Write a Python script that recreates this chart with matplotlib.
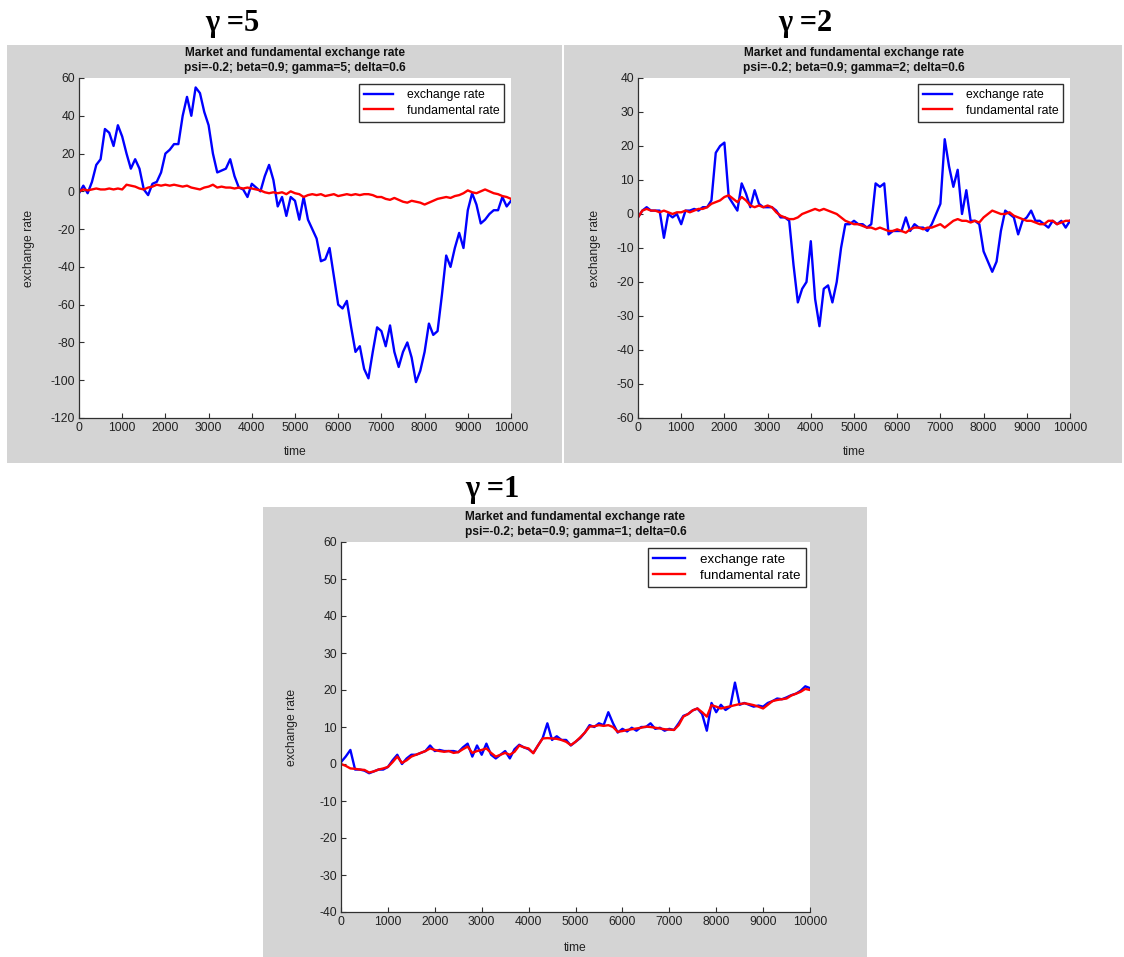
import numpy as np
import matplotlib
matplotlib.use("Agg")
import matplotlib.pyplot as plt
from matplotlib.patches import Rectangle

time = list(range(0, 10001, 100))

g5_exchange = [-1, 3, -1, 5, 14, 17, 33, 31, 24, 35, 29, 20, 12, 17, 12, 1, -2, 4, 5, 10,
               20, 22, 25, 25, 40, 50, 40, 55, 52, 42, 35, 20, 10, 11, 12, 17, 8, 2, 1, -3,
               4, 2, 0, 8, 14, 6, -8, -3, -13, -3, -5, -15, -3, -15, -20, -25, -37, -36, -30, -45,
               -60, -62, -58, -72, -85, -82, -94, -99, -85, -72, -74, -82, -71, -85, -93, -85, -80, -88, -101, -95,
               -85, -70, -76, -74, -55, -34, -40, -30, -22, -30, -10, -1, -7, -17, -15, -12, -10, -10, -3, -8,
               -5]
g5_fundamental = [0, 1, 0.5, 1, 1.5, 1, 1, 1.5, 1, 1.5, 1, 3.5, 3, 2.5, 1.5, 1, 2, 2.5, 3.5, 3,
                  3.5, 3, 3.5, 3, 2.5, 3, 2, 1.5, 1, 2, 2.5, 3.5, 2, 2.5, 2, 2, 1.5, 2, 1.5, 2,
                  1.5, 1, 0.5, -0.5, -1, -0.5, -1, -0.5, -1.5, 0, -1, -1.5, -3, -2, -1.5, -2, -1.5, -2.5, -2, -1.5,
                  -2.5, -2, -1.5, -2, -1.5, -2, -1.5, -1.5, -2, -3, -3, -4, -4.5, -3.5, -4.5, -5.5, -6, -5, -5.5, -6,
                  -7, -6, -5, -4, -3.5, -3, -3.5, -2.5, -2, -1, 0.5, -0.5, -1, 0, 1, 0, -1, -1.5, -2.5, -3,
                  -4]

g2_exchange = [-1, 1, 2, 1, 1, 1, -7, 0, -1, 0, -3, 1, 1, 1.5, 1, 2, 2, 4, 18, 20,
               21, 5, 3, 1, 9, 6, 2, 7, 3, 2, 2, 2, 1, -1, -1, -2, -15, -26, -22, -20,
               -8, -25, -33, -22, -21, -26, -20, -10, -3, -3, -2, -3, -3, -4, -3, 9, 8, 9, -6, -5,
               -5, -5, -1, -5, -3, -4, -4, -5, -3, 0, 3, 22, 14, 8, 13, 0, 7, -2, -2, -3,
               -11, -14, -17, -14, -5, 1, 0, -1, -6, -2, -1, 1, -2, -2, -3, -4, -2, -3, -2, -4,
               -2]
g2_fundamental = [-1, 1, 1.5, 1, 1, 0.5, 1, 0.5, 0, 0.5, 0.5, 1, 0.5, 1, 1.5, 1.5, 2, 3, 3.5, 4,
                  5, 5.5, 4.5, 3.5, 5, 4, 2.5, 2, 2.5, 2, 2.5, 2, 0.5, -0.5, -1, -1.5, -1.5, -1, 0, 0.5,
                  1, 1.5, 1, 1.5, 1, 0.5, 0, -1, -2, -2.5, -3, -3, -3.5, -4, -4, -4.5, -4, -4.5, -5, -5,
                  -4.5, -5, -5.5, -4.5, -4, -4, -4.5, -4, -4, -3.5, -3, -4, -3, -2, -1.5, -2, -2, -2.5, -2, -2.5,
                  -1, 0, 1, 0.5, 0, 0, 0.5, -0.5, -1, -1.5, -2, -2, -2.5, -3, -3, -2, -2, -3, -2.5, -2,
                  -2]

g1_exchange = [0.5, 2, 3.8, -1.5, -1.5, -1.8, -2.5, -2, -1.5, -1.5, -0.8, 1, 2.5, 0, 1.5, 2.5, 2.5, 3, 3.5, 5,
               3.5, 3.8, 3.5, 3.5, 3.5, 3.2, 4.5, 5.5, 2, 5, 2.5, 5.5, 2.5, 1.5, 2.5, 3.5, 1.5, 4, 5.2, 4.5,
               4, 3, 5, 7, 11, 6.5, 7.5, 6.5, 6.5, 5, 6, 7, 8.5, 10.5, 10, 11, 10.5, 14, 11, 8.5,
               9.5, 8.8, 9.8, 9, 10, 10, 11, 9.5, 9.8, 9, 9.5, 9.2, 11, 13, 13.5, 14.5, 15, 13.5, 9, 16.5,
               14, 16, 14.6, 15.5, 22, 16, 16.5, 16, 15.5, 15.8, 15.5, 16.5, 17, 17.7, 17.5, 18, 18.6, 19, 19.8, 21,
               20.5]
g1_fundamental = [0, -0.5, -1.2, -1.3, -1.5, -1.6, -2.3, -2, -1.5, -1.2, -0.8, 0.5, 2, 0.3, 1, 2, 2.5, 3, 3.5, 4.2,
                  3.8, 3.5, 3.3, 3.5, 3, 3.2, 4, 4.7, 3, 3.5, 3.8, 4.2, 3, 2, 2.5, 3, 2.5, 3.3, 5, 4.5,
                  4.2, 2.9, 5, 6.9, 7, 6.9, 6.8, 6.5, 6, 5.1, 6, 7.2, 8.5, 10.1, 10.2, 10.5, 10.3, 10.5, 10, 8.7,
                  8.9, 9.2, 9.4, 9.6, 9.8, 10.1, 10, 9.8, 9.6, 9.4, 9.3, 9.2, 10.5, 12.8, 13.5, 14.5, 15, 14, 12.8, 15.9,
                  15.5, 15, 15.3, 15.6, 15.9, 16.2, 16.4, 16.2, 15.9, 15.5, 15, 16, 17, 17.3, 17.5, 17.7, 18.5, 19, 19.5, 20.3,
                  20]

x_ticks = list(range(0, 10001, 1000))
g5_yticks = list(range(-120, 61, 20))
g2_yticks = list(range(-60, 41, 10))
g1_yticks = list(range(-40, 61, 10))

title_line1 = "Market and fundamental exchange rate"
g5_title2 = "psi=-0.2; beta=0.9; gamma=5; delta=0.6"
g2_title2 = "psi=-0.2; beta=0.9; gamma=2; delta=0.6"
g1_title2 = "psi=-0.2; beta=0.9; gamma=1; delta=0.6"

# ---------------- figure ----------------
W, H = 1124, 957
fig = plt.figure(figsize=(W / 100, H / 100), dpi=100)
fig.patch.set_facecolor("white")
GREY = "#d4d4d4"
SANS = ["Liberation Sans", "DejaVu Sans"]
SERIF = ["Liberation Serif", "DejaVu Serif"]


def fx(px):
    return px / W


def fy(py):
    return 1 - py / H


def grey_panel(x0, y0, x1, y1):
    fig.patches.append(Rectangle((fx(x0), fy(y1)), (x1 - x0) / W, (y1 - y0) / H,
                                 transform=fig.transFigure, facecolor=GREY,
                                 edgecolor="none", zorder=-10))


def make_axes(l, t, r, b, exch, fund, yticks, title2, legend_anchor, ylab_x, xlab_y, leg_size):
    ax = fig.add_axes([fx(l), fy(b), (r - l) / W, (b - t) / H])
    ax.set_zorder(5)
    ax.set_facecolor("white")
    ax.plot(time, exch, color="#0000ff", lw=1.7, label="exchange rate")
    ax.plot(time, fund, color="#ff0000", lw=1.7, label="fundamental rate")
    ax.set_xlim(0, 10000)
    ax.set_ylim(yticks[0], yticks[-1])
    ax.set_xticks(x_ticks)
    ax.set_yticks(yticks)
    ax.set_xticklabels([str(v) for v in x_ticks], fontfamily=SANS)
    ax.set_yticklabels([str(v) for v in yticks], fontfamily=SANS)
    for s in ["top", "right"]:
        ax.spines[s].set_visible(False)
    for s in ["left", "bottom"]:
        ax.spines[s].set_color("#303030")
        ax.spines[s].set_linewidth(0.9)
    ax.tick_params(direction="in", length=3.5, width=0.8, colors="#303030",
                   labelsize=8.7, labelcolor="#222222", pad=3)
    ax.set_xlabel("time", fontsize=8.7, family=SANS, color="#222222")
    ax.set_ylabel("exchange rate", fontsize=8.7, family=SANS, color="#222222")
    ax.yaxis.set_label_coords(ylab_x, 0.5)
    ax.xaxis.set_label_coords(0.5, xlab_y)
    leg = ax.legend(loc="upper right", bbox_to_anchor=legend_anchor, borderaxespad=0,
                    fancybox=False, framealpha=1, edgecolor="#303030",
                    prop={"family": SANS, "size": leg_size}, handlelength=2.4,
                    borderpad=0.4, labelspacing=0.3, handletextpad=1.1)
    leg.get_frame().set_linewidth(1.0)
    cx = (l + r) / 2
    fig.text(fx(cx), fy(t - 25), title_line1, ha="center", va="center",
             fontsize=8.6, fontweight="bold", family=SANS, color="#111111", zorder=6)
    fig.text(fx(cx), fy(t - 10), title2, ha="center", va="center",
             fontsize=8.6, fontweight="bold", family=SANS, color="#111111", zorder=6)
    return ax


grey_panel(7, 45, 562, 463)
grey_panel(564, 45, 1122, 463)
grey_panel(263, 507, 867, 957)

make_axes(79, 78, 511, 418, g5_exchange, g5_fundamental, g5_yticks, g5_title2,
          (0.984, 0.982), -0.102, -0.082, 8.8)
make_axes(638, 78, 1070, 418, g2_exchange, g2_fundamental, g2_yticks, g2_title2,
          (0.984, 0.982), -0.086, -0.082, 8.8)
make_axes(341, 542, 810, 912, g1_exchange, g1_fundamental, g1_yticks, g1_title2,
          (0.991, 0.984), -0.092, -0.081, 9.6)

for txt, x, y in [("\u03b3 =5", 232, 24), ("\u03b3 =2", 805, 24), ("\u03b3 =1", 492, 489)]:
    fig.text(fx(x), fy(y), txt, ha="center", va="center", fontsize=22,
             fontweight="bold", family=SERIF, color="black", zorder=6)

fig.savefig("out.png", dpi=100, facecolor="white")
